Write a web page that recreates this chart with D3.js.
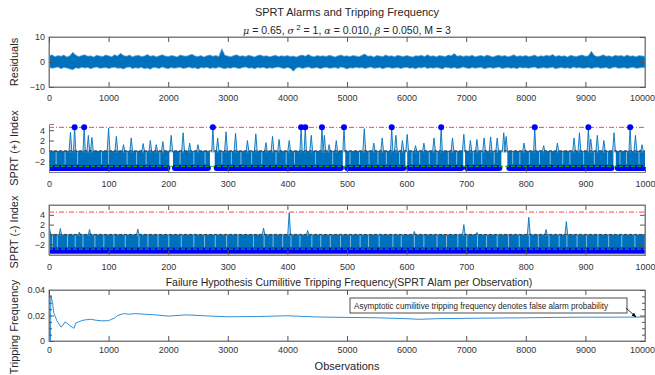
<!DOCTYPE html>
<html><head><meta charset="utf-8">
<script src="https://cdn.jsdelivr.net/npm/d3@7"></script>
<style>
body{margin:0;background:#fff}
svg{display:block}
text{font-family:"Liberation Sans",Arial,sans-serif;fill:#262626}
.tick text{font-size:9px;fill:#333}
.domain{stroke:#7f7f7f}
.tick line{stroke:#555}
</style>
</head><body>
<svg id="c" width="655" height="375"></svg>
<script>
// ---------- DATA ----------
const residualTicks = [0,1000,2000,3000,4000,5000,6000,7000,8000,9000,10000];
const indexTicks = [0,100,200,300,400,500,600,700,800,900,1000];
// residual envelope per 50-observation bin (upper / lower extents)
const resHigh = [
2.4,2.9,2.1,2.6,2.3,2.8,2.0,2.5,3.9,2.7,2.2,2.6,2.9,2.3,2.5,2.0,2.7,2.4,2.2,2.8,
2.5,2.1,2.9,2.4,3.5,2.6,2.3,2.8,2.1,2.5,2.7,2.2,2.4,3.0,2.3,2.6,2.1,2.5,2.9,2.4,
2.2,2.6,2.4,2.0,2.8,2.5,2.3,2.7,3.1,2.4,2.2,2.6,2.0,2.5,2.8,2.3,2.6,2.2,5.3,2.7,
2.4,2.1,2.6,2.9,2.3,2.5,2.2,2.7,2.4,2.0,2.6,2.8,2.3,2.5,2.1,2.4,2.7,2.2,2.5,2.3,
2.6,2.2,2.4,2.0,2.5,2.8,2.3,3.0,2.4,2.1,2.6,2.3,2.5,2.2,2.7,2.4,2.0,2.5,2.8,2.3,
2.5,2.2,2.6,2.4,2.1,2.7,3.2,2.3,2.5,2.0,2.6,2.4,2.2,2.8,2.3,2.5,2.1,2.7,2.4,2.2,
2.6,2.3,2.0,2.5,2.4,2.7,2.2,2.9,2.3,2.5,2.1,2.6,2.4,2.2,2.8,2.5,3.4,2.3,2.6,2.2,
2.5,2.3,2.7,2.1,2.4,2.6,2.2,2.8,2.4,2.0,2.5,2.7,2.3,2.6,2.1,2.4,2.9,2.2,2.5,2.3,
2.6,2.2,2.4,2.8,2.1,2.5,2.3,2.7,2.4,3.0,2.2,2.6,2.3,2.5,2.0,2.7,2.4,2.2,2.6,2.8,
2.3,2.5,4.3,2.6,2.2,2.4,2.9,2.3,2.5,2.1,2.7,2.4,2.6,2.2,2.8,2.3,2.5,2.1,2.6,2.4,
2.3];
const resLow = [
-2.1,-2.5,-2.3,-2.0,-2.7,-2.2,-2.4,-2.8,-3.1,-2.3,-2.6,-2.1,-2.4,-2.2,-2.7,-2.3,-2.0,-2.5,-2.4,-2.2,
-2.6,-2.3,-2.1,-2.5,-2.4,-2.8,-2.2,-2.0,-2.6,-2.3,-2.5,-2.1,-2.7,-2.4,-2.9,-2.2,-2.3,-2.6,-2.0,-2.4,
-2.7,-2.2,-2.5,-2.3,-2.1,-2.6,-2.4,-2.0,-2.5,-2.3,-2.8,-2.2,-2.4,-2.1,-2.6,-2.3,-2.5,-2.0,-2.4,-2.7,
-2.3,-2.5,-2.1,-2.4,-2.6,-2.2,-2.0,-2.5,-2.3,-2.7,-2.2,-2.4,-2.1,-2.6,-2.3,-2.5,-2.2,-2.0,-2.4,-2.6,
-2.2,-2.5,-3.7,-2.4,-2.1,-2.6,-2.3,-2.0,-2.5,-2.4,-2.2,-2.7,-2.3,-2.1,-2.5,-2.4,-2.2,-2.6,-2.0,-2.3,
-2.8,-2.3,-2.5,-2.1,-2.4,-2.2,-2.6,-2.3,-2.0,-2.5,-2.4,-2.2,-2.7,-2.3,-2.1,-2.5,-2.4,-2.2,-2.6,-2.3,
-2.1,-2.5,-2.3,-2.7,-2.2,-2.4,-2.0,-2.6,-2.3,-2.5,-2.2,-2.4,-2.8,-2.1,-2.3,-2.5,-2.2,-2.6,-2.4,-2.0,
-2.4,-2.6,-2.2,-2.5,-2.3,-2.1,-2.7,-2.4,-2.2,-2.5,-2.3,-2.0,-2.6,-2.4,-2.2,-2.5,-2.3,-2.7,-2.1,-2.4,
-2.3,-2.5,-2.2,-2.0,-2.6,-2.4,-2.2,-2.5,-2.3,-2.1,-2.7,-2.4,-2.2,-2.5,-2.3,-2.6,-2.0,-2.4,-2.2,-2.5,
-2.4,-2.2,-2.6,-2.3,-2.1,-2.5,-2.4,-2.2,-2.7,-2.3,-2.0,-2.5,-2.4,-2.2,-2.6,-2.3,-2.1,-2.5,-2.4,-2.2,
-2.3];

const upperThreshold = 4.55;   // ln((1-beta)/alpha)
const lowerThreshold = -2.99;  // ln(beta/(1-alpha))

// SPRT (+) index
const plusBlocks = [[0,202],[208,270],[278,493],[497,598],[601,695],[698,759],[769,947],[951,1000]];
const plusSpikes = [[36,3.6],[66,3.0],[72,2.6],[100,4.4],[113,2.8],[125,1.2],[138,2.5],[158,1.4],[170,2.0],[180,1.2],[191,1.8],[205,3.0],[225,3.5],[236,1.5],[250,1.2],[283,2.5],[297,3.7],[313,3.4],[333,2.0],[347,3.3],[364,1.6],[375,2.8],[386,2.2],[403,2.0],[440,3.0],[462,3.0],[470,1.2],[482,2.0],[529,4.3],[545,1.5],[559,2.5],[582,3.0],[593,2.0],[601,3.2],[615,1.0],[629,1.5],[646,2.5],[677,2.5],[696,3.2],[707,2.0],[718,2.2],[730,2.5],[741,2.7],[752,2.5],[763,3.5],[767,2.8],[797,1.5],[830,1.0],[853,1.5],[881,2.5],[890,3.5],[909,2.3],[920,3.0],[931,2.0],[948,3.5],[984,3.0],[995,1.2]];
const plusAlarms = [43,59,275,423,430,458,495,575,658,815,905,975];
const plusStreaks = [12,27,48,88,100,131,147,163,186,220,243,262,290,306,322,340,357,381,398,412,447,476,505,521,537,552,566,588,609,622,638,651,670,684,712,726,747,778,790,806,823,841,862,874,897,915,937,958,969,990];

// SPRT (-) index
const minusBlocks = [[0,1000]];
const minusSpikes = [[1,1.2],[19,1.2],[51,0.5],[68,1.0],[149,1.1],[360,1.3],[403,4.4],[434,0.8],[613,0.6],[696,2.0],[718,0.4],[805,3.5],[834,1.0],[868,2.6]];
const minusStreaks = [6,14,31,44,57,77,92,109,128,151,166,183,201,222,243,261,279,298,317,343,361,376,392,406,421,441,456,472,489,506,522,536,554,577,591,613,629,651,667,686,701,719,734,752,771,789,806,821,839,856,869,886,902,921,939,961,983];

// cumulative tripping frequency
const cumX = [0,25,30,45,60,80,100,130,160,200,230,270,300,350,400,420,450,500,550,600,700,800,900,1000,1050,1100,1150,1250,1350,1450,1600,1800,2000,2300,2600,3000,3500,4000,4500,5000,5500,6000,6200,6500,7000,7500,8000,8500,9000,9500,10000];
const cumY = [0,0,0.036,0.033,0.030,0.022,0.020,0.016,0.014,0.011,0.012,0.015,0.014,0.012,0.0105,0.010,0.014,0.015,0.016,0.0165,0.017,0.0162,0.0158,0.016,0.017,0.018,0.020,0.0215,0.021,0.0215,0.021,0.0205,0.0195,0.0205,0.0198,0.019,0.0192,0.0198,0.0188,0.0185,0.0182,0.0175,0.0170,0.0175,0.0178,0.018,0.0182,0.0185,0.0187,0.0187,0.0188];

// ---------- LAYOUT ----------
const svg = d3.select("#c");
const L = 49, R = 645;
const blue = "#0072BD", mark = "#0000FF";
const defs = svg.append("defs");

function clip(id, top, bottom){
  defs.append("clipPath").attr("id", id).append("rect")
    .attr("x", L).attr("y", top).attr("width", R-L).attr("height", bottom-top);
}

function frame(g, x, y, top, bottom, opts){
  const ax = g.append("g").attr("transform", `translate(0,${bottom})`)
    .call(d3.axisBottom(x).tickValues(opts.xt).tickSize(-5).tickPadding(opts.pad).tickFormat(d3.format("d")));
  // keep the last (edge) label inside the picture
  ax.selectAll(".tick text").filter(d=>d===10000).attr("dx", -3);
  g.append("g").attr("transform", `translate(${L},0)`)
    .call(d3.axisLeft(y).tickValues(opts.yt).tickSize(-5).tickPadding(4).tickFormat(opts.yf));
  if (opts.box){
    g.append("g").attr("transform", `translate(0,${top})`)
      .call(d3.axisTop(x).tickValues(opts.xt).tickSize(-5).tickFormat(""));
    g.append("g").attr("transform", `translate(${R},0)`)
      .call(d3.axisRight(y).tickValues(opts.yt).tickSize(-5).tickFormat(""));
  }
  g.selectAll(".domain").attr("stroke","#7f7f7f");
}

// Title
svg.append("text").attr("x", 347).attr("y", 16).attr("text-anchor","middle")
  .attr("font-size", 11).text("SPRT Alarms and Tripping Frequency");
const sub = svg.append("text").attr("x", 347).attr("y", 34).attr("text-anchor","middle").attr("font-size", 10.5);
sub.append("tspan").attr("font-style","italic").attr("font-family","DejaVu Serif").attr("font-size",9.5).text("\u03BC");
sub.append("tspan").text(" = 0.65, ");
sub.append("tspan").attr("font-style","italic").attr("font-family","DejaVu Serif").attr("font-size",9.5).text("\u03C3");
sub.append("tspan").attr("dy",-4).attr("font-size",8).text(" 2");
sub.append("tspan").attr("dy",4).text(" = 1, ");
sub.append("tspan").attr("font-style","italic").attr("font-family","DejaVu Serif").attr("font-size",9.5).text("\u03B1");
sub.append("tspan").text(" = 0.010, ");
sub.append("tspan").attr("font-style","italic").attr("font-family","DejaVu Serif").attr("font-size",9.5).text("\u03B2");
sub.append("tspan").text(" = 0.050, M = 3");

function ylabel(text, cy){
  svg.append("text").attr("transform", `translate(18,${cy}) rotate(-90)`)
    .attr("text-anchor","middle").attr("font-size", 11).text(text);
}

// ---------- Panel 1: residuals ----------
{
  const top = 37, bottom = 87;
  const x = d3.scaleLinear().domain([0,10000]).range([L,R]);
  const y = d3.scaleLinear().domain([-10,10]).range([bottom,top]);
  clip("c1", top, bottom);
  const g = svg.append("g");
  g.append("rect").attr("x",L).attr("y",top).attr("width",R-L).attr("height",bottom-top)
    .attr("fill","none").attr("stroke","#7f7f7f");
  const n = resHigh.length;
  const pts = resHigh.map((h,i)=>({x: i*10000/(n-1), h, l: resLow[i]}));
  g.append("path").attr("clip-path","url(#c1)").datum(pts)
    .attr("d", d3.area().x(d=>x(d.x)).y0(d=>y(d.l)).y1(d=>y(d.h)))
    .attr("fill", blue).attr("stroke","#5aa6dc").attr("stroke-width",0.7);
  frame(g, x, y, top, bottom, {xt: residualTicks, yt:[-10,0,10], pad:8, box:true, yf:d3.format("d")});
  ylabel("Residuals", 62);
}

function sprtPanel(top, bottom, domain, blocks, spikes, alarms, streaks, box, clipId){
  const x = d3.scaleLinear().domain([0,1000]).range([L,R]);
  const y = d3.scaleLinear().domain(domain).range([bottom,top]);
  clip(clipId, top-6, bottom);
  const g = svg.append("g");
  const pg = g.append("g").attr("clip-path", `url(#${clipId})`);
  pg.selectAll("rect.blk").data(blocks).join("rect").attr("class","blk")
    .attr("x", d=>x(d[0])).attr("width", d=>x(d[1])-x(d[0]))
    .attr("y", y(0)).attr("height", y(lowerThreshold)-y(0)).attr("fill", blue);
  pg.selectAll("line.st").data(streaks).join("line").attr("class","st")
    .attr("x1", d=>x(d)).attr("x2", d=>x(d)).attr("y1", y(-0.2)).attr("y2", y(-2.6))
    .attr("stroke","#cfe3f3").attr("stroke-width",0.8).attr("opacity",0.8);
  const sp = d3.line().x(d=>x(d[0])).y(d=>y(d[1]));
  const allSpikes = spikes.map(s=>[[s[0]-2.5,-0.3],[s[0],s[1]],[s[0]+2.5,-0.3]])
    .concat(alarms.map(a=>[[a-2,-0.3],[a,upperThreshold],[a+2,-0.3]]));
  pg.selectAll("path.sp").data(allSpikes).join("path").attr("class","sp")
    .attr("d", sp).attr("fill","#7fb6e0").attr("fill-opacity",0.5)
    .attr("stroke", blue).attr("stroke-width",0.9);
  pg.append("line").attr("x1",L).attr("x2",R).attr("y1",y(0)).attr("y2",y(0))
    .attr("stroke","#333").attr("stroke-width",0.9).attr("stroke-dasharray","3,2");
  pg.selectAll("line.mk").data(blocks).join("line").attr("class","mk")
    .attr("x1", d=>x(d[0])+2).attr("x2", d=>x(d[1])-2)
    .attr("y1", y(lowerThreshold-0.35)).attr("y2", y(lowerThreshold-0.35))
    .attr("stroke", mark).attr("stroke-width",6).attr("stroke-linecap","round");
  pg.append("line").attr("x1",L).attr("x2",R).attr("y1",y(upperThreshold)).attr("y2",y(upperThreshold))
    .attr("stroke","#ff3030").attr("stroke-width",0.9).attr("stroke-dasharray","5,2,1,2");
  pg.append("line").attr("x1",L).attr("x2",R).attr("y1",y(lowerThreshold)).attr("y2",y(lowerThreshold))
    .attr("stroke","#00d000").attr("stroke-width",1).attr("stroke-dasharray","4,2");
  g.selectAll("circle.al").data(alarms).join("circle").attr("class","al")
    .attr("cx", d=>x(d)).attr("cy", y(upperThreshold)).attr("r",3).attr("fill",mark);
  frame(g, x, y, top, bottom, {xt: indexTicks, yt:[-2,0,2,4], pad:9, box, yf:d3.format("d")});
  if (box) g.append("rect").attr("x",L).attr("y",top).attr("width",R-L).attr("height",bottom-top)
    .attr("fill","none").attr("stroke","#7f7f7f");
}

// ---------- Panel 2 ----------
sprtPanel(124, 172, [-4.1,5.2], plusBlocks, plusSpikes, plusAlarms, plusStreaks, false, "c2");
ylabel("SPRT (+) Index", 148);

// ---------- Panel 3 ----------
sprtPanel(205, 255, [-4.2,6], minusBlocks, minusSpikes, [], minusStreaks, true, "c3");
ylabel("SPRT (-) Index", 232);

// ---------- Panel 4 ----------
{
  const top = 290, bottom = 341;
  const x = d3.scaleLinear().domain([0,10000]).range([L,R]);
  const y = d3.scaleLinear().domain([0,0.04]).range([bottom,top]);
  clip("c4", top, bottom);
  const g = svg.append("g");
  g.append("rect").attr("x",L).attr("y",top).attr("width",R-L).attr("height",bottom-top)
    .attr("fill","none").attr("stroke","#7f7f7f");
  g.append("path").attr("clip-path","url(#c4)").datum(cumX.map((v,i)=>[v,cumY[i]]))
    .attr("d", d3.line().x(d=>x(d[0])).y(d=>y(d[1])))
    .attr("fill","none").attr("stroke","#2f8fd8").attr("stroke-width",1);
  frame(g, x, y, top, bottom, {xt: residualTicks, yt:[0,0.02,0.04], pad:6, box:true, yf:d=>d===0?"0":d3.format(".2f")(d)});
  const minor = [0.005,0.01,0.015,0.025,0.03,0.035];
  g.append("g").attr("transform",`translate(${L},0)`).call(d3.axisLeft(y).tickValues(minor).tickSize(-3).tickFormat("")).select(".domain").remove();
  g.append("g").attr("transform",`translate(${R},0)`).call(d3.axisRight(y).tickValues(minor).tickSize(-3).tickFormat("")).select(".domain").remove();
  svg.append("text").attr("x",349).attr("y",286).attr("text-anchor","middle").attr("font-size",10.5)
    .text("Failure Hypothesis Cumilitive Tripping Frequency(SPRT Alam per Observation)");
  svg.append("text").attr("x",347).attr("y",370).attr("text-anchor","middle").attr("font-size",11).text("Observations");
  ylabel("Tripping Frequency", 327);
  defs.append("marker").attr("id","arr").attr("viewBox","0 0 10 10").attr("refX",9).attr("refY",5)
    .attr("markerWidth",6).attr("markerHeight",6).attr("orient","auto")
    .append("path").attr("d","M0,1 L10,5 L0,9 Z").attr("fill","#000");
  svg.append("rect").attr("x",350).attr("y",298).attr("width",277).attr("height",15)
    .attr("fill","#fff").attr("stroke","#222").attr("stroke-width",0.8);
  svg.append("text").attr("x",354).attr("y",309).attr("font-size",8.5)
    .attr("textLength",254).attr("lengthAdjust","spacingAndGlyphs")
    .text("Asymptotic cumilitive tripping frequency denotes false alarm probability");
  svg.append("line").attr("x1",626).attr("y1",308).attr("x2",636).attr("y2",317)
    .attr("stroke","#000").attr("stroke-width",0.8).attr("marker-end","url(#arr)");
}
</script>
</body></html>
